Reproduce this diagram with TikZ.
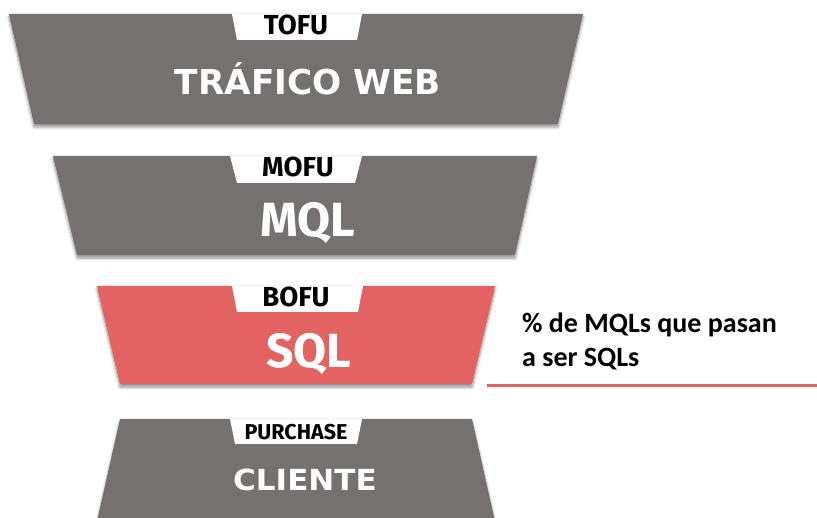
\documentclass[tikz,border=0pt]{standalone}
\usepackage{fontspec}
\setmainfont{Fira Sans}
\newfontfamily\notefont{Carlito}
\newfontfamily\widefont{DejaVu Sans}
\usetikzlibrary{shadows.blur}
\definecolor{funnelgray}{RGB}{117,113,112}
\definecolor{funnelred}{RGB}{227,99,99}
\begin{document}
\begin{tikzpicture}[x=1pt,y=-1pt,
  stage/.style={fill=#1, blur shadow={shadow xshift=0pt, shadow yshift=-3pt,
      shadow blur radius=3pt, shadow blur steps=6, shadow opacity=45}},
  tab/.style={fill=white},
  tablabel/.style={anchor=base, inner sep=0pt, text=black,
      font=\bfseries\fontsize{27.5}{30}\selectfont},
  mainlabel/.style={anchor=base, inner sep=0pt, text=white,
      font=\bfseries\fontsize{#1}{#1}\selectfont},
  widelabel/.style={anchor=base, inner sep=0pt, text=white,
      font=\widefont\bfseries\fontsize{#1}{#1}\selectfont},
  note/.style={anchor=base west, inner sep=0pt, text=black,
      font=\notefont\bfseries\fontsize{28}{30}\selectfont}]
\useasboundingbox (0,0) rectangle (817,518);
\clip (0,0) rectangle (817,518);

% TOFU stage
\path[stage=funnelgray] (9,14) -- (583,14) -- (558,124) -- (34,124) -- cycle;
\path[tab] (232,14) -- (362,14) -- (357,40) -- (237,40) -- cycle;
\node[tablabel] (tofu) at (296,35) {TOFU};
\node[widelabel=34.3] (web) at (308,95) {TRÁFICO WEB};

% MOFU stage
\path[stage=funnelgray] (53,156) -- (537,156) -- (515,255) -- (77,255) -- cycle;
\path[tab] (230,156) -- (362,156) -- (355,183) -- (237,183) -- cycle;
\node[tablabel] (mofu) at (298,177) {MOFU};
\node[mainlabel=48] (mql) at (308,237) {MQL};

% BOFU stage
\path[stage=funnelred] (97,286) -- (495,286) -- (472,384) -- (120,384) -- cycle;
\path[tab] (232,286) -- (363,286) -- (358,312) -- (237,312) -- cycle;
\node[tablabel] (bofu) at (296,307) {BOFU};
\node[mainlabel=48] (sql) at (309,368) {SQL};

% Purchase stage (opens downwards)
\path[stage=funnelgray] (120,419) -- (472,419) -- (497,530) -- (95,530) -- cycle;
\path[tab] (230,419) -- (362,419) -- (357,444) -- (235,444) -- cycle;
\node[tablabel, font=\bfseries\fontsize{21.5}{24}\selectfont] (purchase) at (296,440) {PURCHASE};
\node[widelabel=29] (cliente) at (305,491) {\scalebox{1.07}[1]{CLIENTE}};

% Conversion note
\node[note] (note1) at (522,333) {\% de MQLs que pasan};
\node[note] (note2) at (522,367) {a ser SQLs};
\coordinate (ruleL) at (487,385.5);
\coordinate (ruleR) at (817,385.5);
\draw[funnelred, line width=3pt] (ruleL) -- (ruleR);
\end{tikzpicture}
\end{document}
